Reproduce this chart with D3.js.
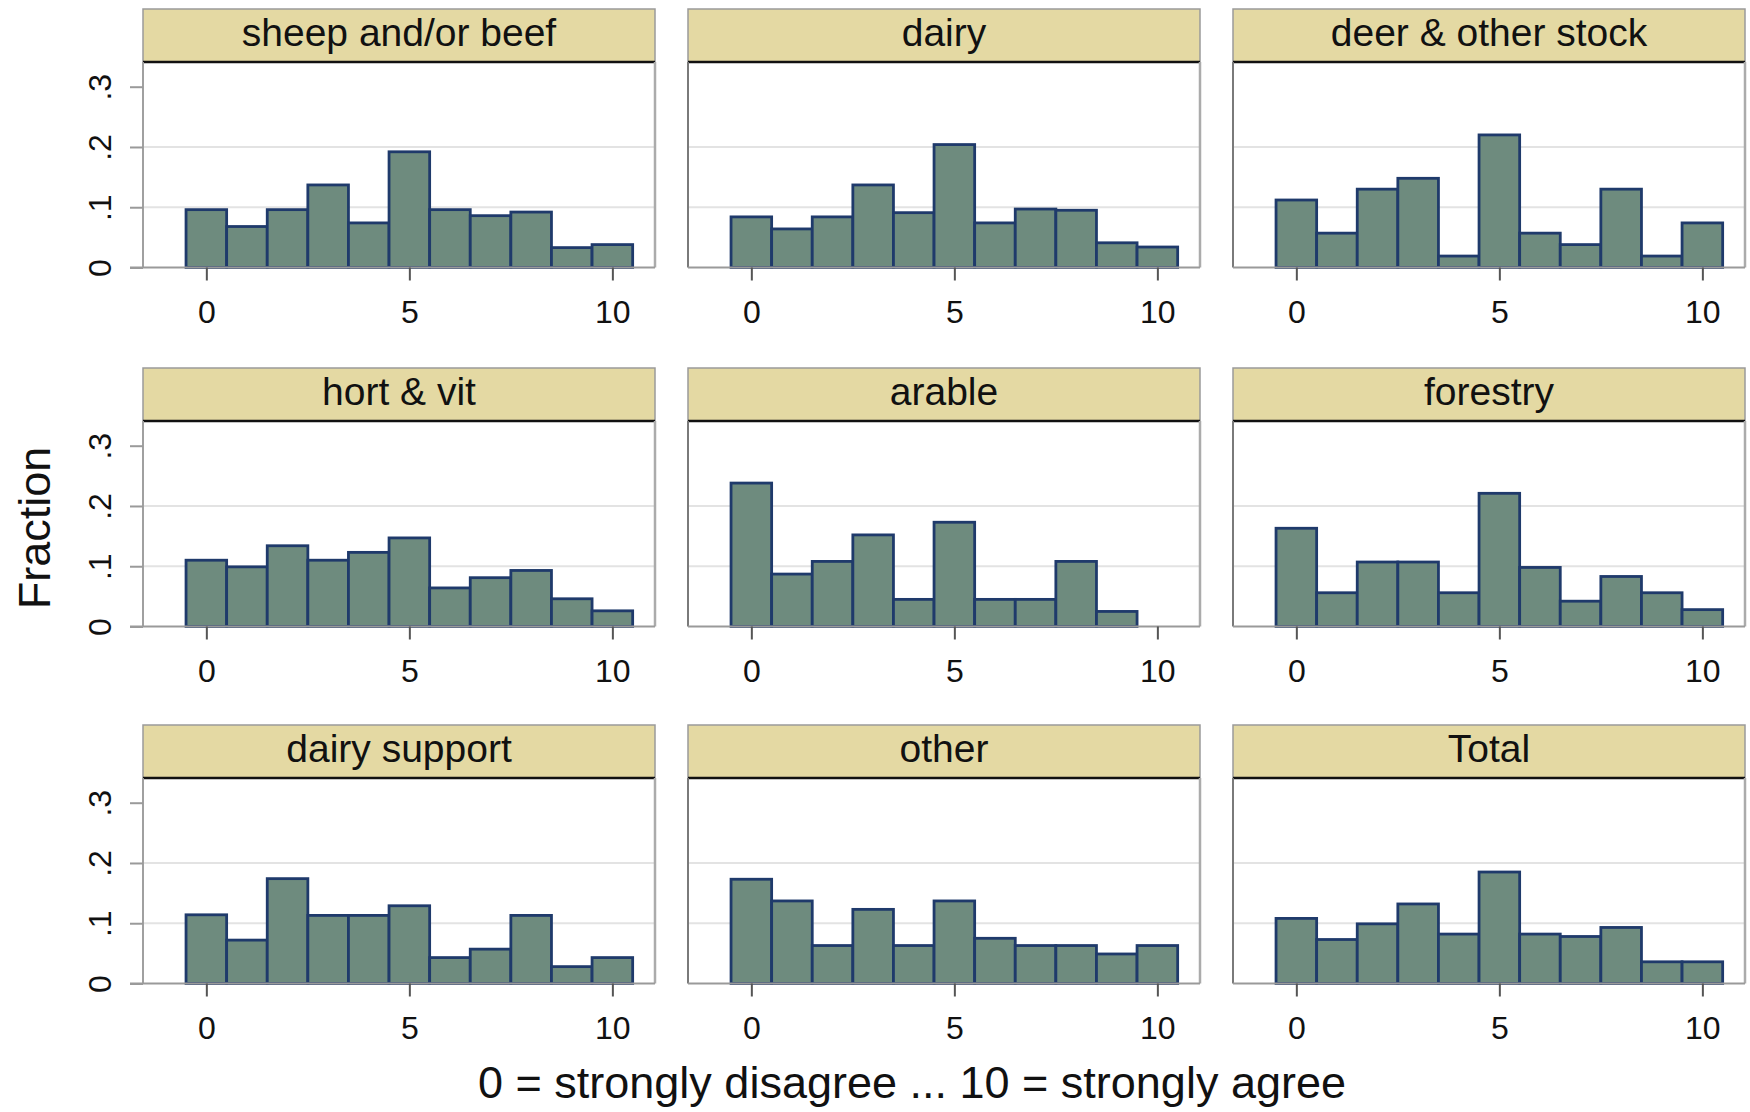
<!DOCTYPE html>
<html>
<head>
  <meta charset="UTF-8">
  <title>Fraction by farm type</title>
  <style>
    body { margin: 0; background: white; }
    text { font-family: "Liberation Sans", Arial, sans-serif; fill: #111; }
  </style>
</head>
<body>
<svg id="chart"></svg>
<script src="https://d3js.org/d3.v7.min.js"></script>
<script>

let width = 1750, height = 1112;

// panel titles, in reading order
var panelNames = ["sheep and/or beef", "dairy", "deer & other stock",
                  "hort & vit", "arable", "forestry",
                  "dairy support", "other", "Total"];

// rating scale 0..10
var ratings = [0, 1, 2, 3, 4, 5, 6, 7, 8, 9, 10];

// fractions per rating, one array per panel
var sheepBeef    = [0.096, 0.068, 0.096, 0.137, 0.074, 0.192, 0.096, 0.086, 0.092, 0.033, 0.038];
var dairy        = [0.084, 0.064, 0.084, 0.137, 0.091, 0.204, 0.074, 0.097, 0.095, 0.041, 0.034];
var deerOther    = [0.112, 0.057, 0.130, 0.148, 0.019, 0.220, 0.057, 0.038, 0.130, 0.019, 0.074];
var hortVit      = [0.110, 0.099, 0.134, 0.110, 0.123, 0.147, 0.064, 0.081, 0.093, 0.046, 0.026];
var arable       = [0.238, 0.087, 0.108, 0.152, 0.045, 0.173, 0.045, 0.045, 0.108, 0.025, 0];
var forestry     = [0.163, 0.056, 0.107, 0.107, 0.056, 0.221, 0.098, 0.042, 0.083, 0.056, 0.028];
var dairySupport = [0.114, 0.072, 0.174, 0.113, 0.113, 0.129, 0.043, 0.057, 0.113, 0.028, 0.043];
var otherType    = [0.173, 0.137, 0.063, 0.123, 0.063, 0.137, 0.075, 0.063, 0.063, 0.049, 0.063];
var total        = [0.108, 0.073, 0.099, 0.132, 0.082, 0.185, 0.082, 0.078, 0.093, 0.036, 0.036];

var panelValues = [sheepBeef, dairy, deerOther, hortVit, arable, forestry, dairySupport, otherType, total];

var yTicks = [0, 0.1, 0.2, 0.3];
var yTickLabels = ["0", ".1", ".2", ".3"];
var gridValues = [0.1, 0.2];
var xTicks = [0, 5, 10];

// layout
var colLeft = [143, 688, 1233];
var rowTop = [9, 368, 725];
var panelW = 512;
var stripH = 53;
var plotH = 205.5;

var svg = d3.select("#chart")
    .attr("width", width)
    .attr("height", height)
    .attr("viewBox", "0 0 " + width + " " + height);

let x = d3.scaleLinear().domain([-1.56, 11.05]).range([0, panelW]);
let y = d3.scaleLinear().domain([0, 0.341]).range([plotH, 0]);

panelNames.forEach(function(name, i) {
    var col = i % 3, row = Math.floor(i / 3);
    var g = svg.append("g")
        .attr("transform", "translate(" + colLeft[col] + "," + rowTop[row] + ")");

    // strip
    g.append("rect")
        .attr("x", 0).attr("y", 0)
        .attr("width", panelW).attr("height", stripH)
        .attr("fill", "#e4d9a3")
        .attr("stroke", "#9a9a9a")
        .attr("stroke-width", 1.5);
    g.append("line")
        .attr("x1", 0).attr("x2", panelW)
        .attr("y1", stripH).attr("y2", stripH)
        .attr("stroke", "#111")
        .attr("stroke-width", 2.5);
    g.append("text")
        .attr("x", panelW / 2)
        .attr("y", 37)
        .attr("text-anchor", "middle")
        .style("font-size", "39px")
        .text(name);

    var plot = g.append("g").attr("transform", "translate(0," + stripH + ")");

    // gridlines
    plot.selectAll(".grid")
        .data(gridValues)
        .enter()
        .append("line")
        .attr("x1", 0).attr("x2", panelW)
        .attr("y1", d => y(d)).attr("y2", d => y(d))
        .attr("stroke", "#e3e3e3")
        .attr("stroke-width", 2);

    // bars
    var vals = panelValues[i];
    plot.selectAll(".bar")
        .data(ratings.filter(r => vals[r] > 0))
        .enter()
        .append("rect")
        .attr("x", d => x(d - 0.5))
        .attr("width", x(1) - x(0))
        .attr("y", d => y(vals[d]))
        .attr("height", d => y(0) - y(vals[d]))
        .attr("fill", "#6e8b7e")
        .attr("stroke", "#1f3a6b")
        .attr("stroke-width", 2.8);

    // frame: left, right, bottom
    plot.append("line")
        .attr("x1", 0).attr("x2", 0)
        .attr("y1", 0).attr("y2", plotH)
        .attr("stroke", col == 0 ? "#a0a0a0" : "#7a7a7a")
        .attr("stroke-width", 2);
    plot.append("line")
        .attr("x1", panelW).attr("x2", panelW)
        .attr("y1", 0).attr("y2", plotH)
        .attr("stroke", "#ababab")
        .attr("stroke-width", 2.5);
    plot.append("line")
        .attr("x1", col == 0 ? -13 : 0).attr("x2", panelW)
        .attr("y1", plotH).attr("y2", plotH)
        .attr("stroke", "#9a9a9a")
        .attr("stroke-width", 2);

    // x axis
    var xAxis = plot.append("g")
        .attr("transform", "translate(0," + plotH + ")")
        .call(d3.axisBottom(x).tickValues(xTicks).tickSize(13).tickPadding(10).tickFormat(d3.format("d")));
    xAxis.select(".domain").remove();
    xAxis.selectAll(".tick line").attr("stroke", "#555").attr("stroke-width", 2);
    xAxis.selectAll(".tick text")
        .attr("dy", null)
        .attr("y", 55)
        .style("font-size", "32px")
        .style("font-family", "Liberation Sans, Arial, sans-serif")
        .attr("fill", "#111");

    // y axis, first column only
    if (col == 0) {
        var yAxis = plot.append("g")
            .call(d3.axisLeft(y).tickValues(yTicks).tickSize(13).tickFormat((d, k) => yTickLabels[k]));
        yAxis.select(".domain").remove();
        yAxis.selectAll(".tick line").attr("stroke", "#9a9a9a").attr("stroke-width", 2);
        yAxis.selectAll(".tick text")
            .attr("x", null).attr("dy", null)
            .attr("text-anchor", "middle")
            .attr("transform", "translate(-32,0) rotate(-90)")
            .style("font-size", "32px")
            .style("font-family", "Liberation Sans, Arial, sans-serif")
            .attr("fill", "#111");
    }
});

// overall axis titles
svg.append("text")
    .attr("transform", "translate(50,528) rotate(-90)")
    .attr("text-anchor", "middle")
    .style("font-size", "45px")
    .text("Fraction");

svg.append("text")
    .attr("x", 912)
    .attr("y", 1098)
    .attr("text-anchor", "middle")
    .style("font-size", "45px")
    .text("0 = strongly disagree ... 10 = strongly agree");

</script>
</body>
</html>
